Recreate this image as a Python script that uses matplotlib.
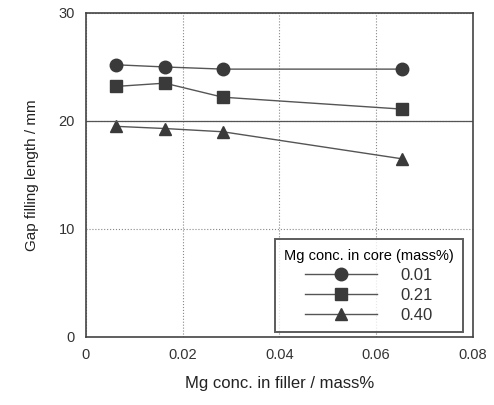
import matplotlib.pyplot as plt

plt.rcParams["font.family"] = ["Liberation Sans", "DejaVu Sans"]

filler_mg = [0.0063, 0.0163, 0.0283, 0.0653]
core_labels = ["0.01", "0.21", "0.40"]
gap_001 = [25.2, 25.0, 24.8, 24.8]
gap_021 = [23.2, 23.5, 22.2, 21.1]
gap_040 = [19.5, 19.3, 19.0, 16.5]
series = [gap_001, gap_021, gap_040]
markers = ["o", "s", "^"]

fig = plt.figure(figsize=(4.94, 4.05), dpi=100)
ax = fig.add_axes([0.174, 0.168, 0.783, 0.80])

for vals, m, lab in zip(series, markers, core_labels):
    ax.plot(filler_mg, vals, color="#555555", lw=1.0, marker=m, markersize=9,
            markerfacecolor="#3a3a3a", markeredgecolor="#3a3a3a", label=lab)

ax.set_xlim(0, 0.08)
ax.set_ylim(0, 30)
ax.set_xticks([0, 0.02, 0.04, 0.06, 0.08])
ax.set_xticklabels(["0", "0.02", "0.04", "0.06", "0.08"])
ax.set_yticks([0, 10, 20, 30])
ax.grid(True, color="#888888", lw=0.8, ls=":")
ax.axhline(20, color="#555555", lw=0.9)
ax.tick_params(axis="both", length=0, labelsize=10.5, colors="#333333", pad=8)
for s in ax.spines.values():
    s.set_color("#444444")
    s.set_linewidth(1.2)

ax.set_xlabel("Mg conc. in filler / mass%", fontsize=12, color="#222222", labelpad=10)
ax.set_ylabel("Gap filling length / mm", fontsize=11, color="#222222", labelpad=14)

leg = ax.legend(title="Mg conc. in core (mass%)", loc="lower right",
                bbox_to_anchor=(0.974, 0.016), borderaxespad=0,
                fontsize=12, title_fontsize=10.5,
                frameon=True, fancybox=False, edgecolor="#333333",
                handlelength=4.3, handletextpad=1.4, labelspacing=0.3,
                borderpad=0.55, markerscale=1.0)
leg.get_frame().set_linewidth(1.4)
for t in leg.get_texts():
    t.set_color("#333333")

fig.savefig("out.png", dpi=100)
